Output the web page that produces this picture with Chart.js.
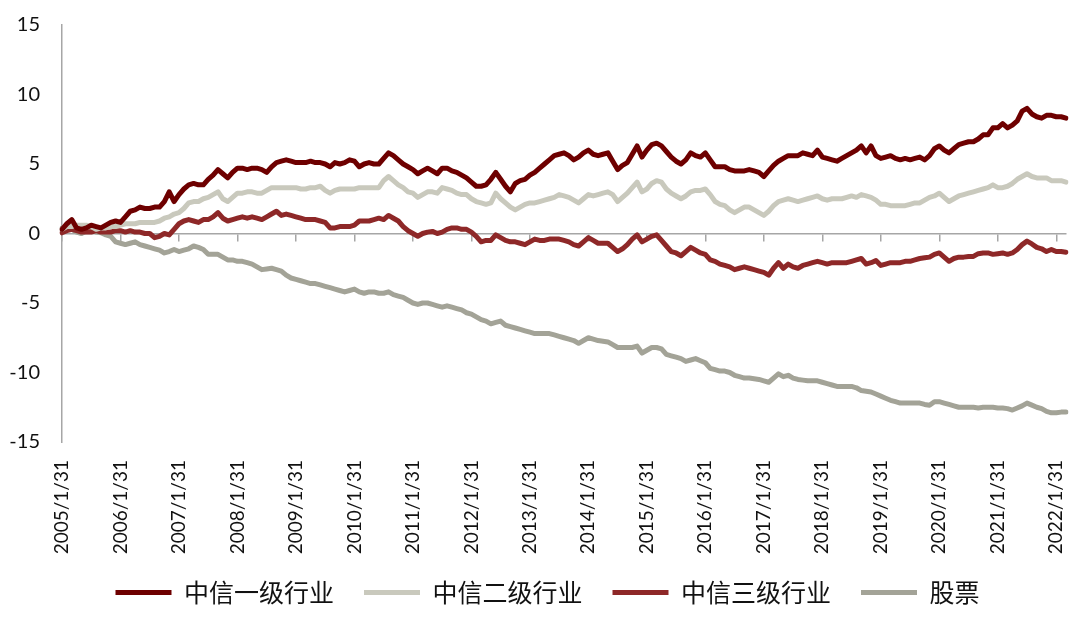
<!DOCTYPE html>
<html>
<head>
<meta charset="utf-8">
<script src="https://cdn.jsdelivr.net/npm/chart.js@4/dist/chart.umd.min.js"></script>
<style>
  html, body { margin: 0; padding: 0; background: #fff; }
  #wrap { width: 1080px; height: 617px; }
</style>
</head>
<body>
<div id="wrap"><canvas id="chart"></canvas></div>
<script>
// month-end dates, 2005/1/31 .. 2022/3/31
const months = [];
for (let y = 2005; y <= 2022; y++) {
  for (let m = 1; m <= 12; m++) {
    if (months.length >= 207) break;
    months.push(y + '/' + m + '/' + new Date(y, m, 0).getDate());
  }
}

const seriesNames = ['中信一级行业', '中信二级行业', '中信三级行业', '股票'];
const seriesColors = ['#6E0000', '#C9C9BD', '#8E2828', '#A3A397'];

const level1 = [
  0.3,0.7,1.0,0.4,0.3,0.4,0.6,0.5,0.4,0.6,0.8,0.9,
  0.8,1.2,1.6,1.7,1.9,1.8,1.8,1.9,1.9,2.3,3.0,2.3,
  2.8,3.2,3.5,3.6,3.5,3.5,3.9,4.2,4.6,4.3,4.0,4.4,
  4.7,4.7,4.6,4.7,4.7,4.6,4.4,4.8,5.1,5.2,5.3,5.2,
  5.1,5.1,5.1,5.2,5.1,5.1,5.0,4.8,5.1,5.0,5.1,5.3,
  5.2,4.8,5.0,5.1,5.0,5.0,5.4,5.8,5.6,5.3,5.0,4.8,
  4.6,4.3,4.5,4.7,4.5,4.3,4.7,4.7,4.5,4.4,4.2,4.0,
  3.7,3.4,3.4,3.5,3.9,4.4,3.9,3.4,3.0,3.6,3.8,3.9,
  4.2,4.4,4.7,5.0,5.3,5.6,5.7,5.8,5.6,5.3,5.5,5.8,
  6.0,5.7,5.6,5.7,5.8,5.2,4.6,4.9,5.1,5.7,6.3,5.5,
  6.0,6.4,6.5,6.3,5.9,5.5,5.2,5.0,5.3,5.8,5.6,5.5,
  5.8,5.3,4.8,4.8,4.8,4.6,4.5,4.5,4.5,4.6,4.5,4.4,
  4.1,4.5,4.9,5.2,5.4,5.6,5.6,5.6,5.8,5.7,5.6,6.0,
  5.5,5.4,5.3,5.2,5.4,5.6,5.8,6.0,6.3,5.8,6.3,5.6,
  5.4,5.5,5.6,5.4,5.3,5.4,5.3,5.4,5.5,5.3,5.6,6.1,
  6.3,6.0,5.8,6.1,6.4,6.5,6.6,6.6,6.8,7.1,7.1,7.6,
  7.6,7.9,7.6,7.8,8.1,8.8,9.0,8.6,8.4,8.3,8.5,8.5,
  8.4,8.4,8.3
];

const level2 = [
  0.3,0.5,0.5,0.6,0.6,0.6,0.5,0.3,0.4,0.4,0.5,0.5,
  0.6,0.7,0.7,0.7,0.8,0.8,0.8,0.8,0.9,1.1,1.2,1.4,
  1.5,1.8,2.2,2.3,2.3,2.5,2.6,2.8,3.0,2.5,2.3,2.6,
  2.9,2.9,3.0,3.0,2.9,2.9,3.1,3.3,3.3,3.3,3.3,3.3,
  3.3,3.2,3.2,3.3,3.3,3.4,3.1,2.9,3.1,3.2,3.2,3.2,
  3.2,3.3,3.3,3.3,3.3,3.3,3.8,4.1,3.8,3.5,3.3,3.0,
  2.9,2.6,2.8,3.0,3.0,2.9,3.3,3.2,3.1,2.9,2.8,2.8,
  2.5,2.3,2.2,2.1,2.2,2.9,2.5,2.2,1.9,1.7,1.9,2.1,
  2.2,2.2,2.3,2.4,2.5,2.6,2.8,2.7,2.6,2.4,2.2,2.5,
  2.8,2.7,2.8,2.9,3.0,2.8,2.3,2.6,2.9,3.3,3.7,3.0,
  3.2,3.6,3.8,3.7,3.2,2.9,2.7,2.5,2.7,3.0,3.1,3.1,
  3.2,2.8,2.3,2.1,2.0,1.7,1.5,1.7,1.9,1.9,1.7,1.5,
  1.3,1.6,2.0,2.3,2.4,2.5,2.4,2.3,2.4,2.5,2.6,2.7,
  2.5,2.4,2.5,2.5,2.5,2.6,2.7,2.6,2.8,2.7,2.6,2.4,
  2.1,2.1,2.0,2.0,2.0,2.0,2.1,2.2,2.2,2.4,2.6,2.7,
  2.9,2.6,2.3,2.5,2.7,2.8,2.9,3.0,3.1,3.2,3.3,3.5,
  3.3,3.3,3.4,3.6,3.9,4.1,4.3,4.1,4.0,4.0,4.0,3.8,
  3.8,3.8,3.7
];

const level3 = [
  0.05,0.2,0.3,0.2,0.1,0.1,0.1,0.2,0.1,0.1,0.1,0.2,
  0.2,0.1,0.2,0.1,0.1,0.0,0.0,-0.3,-0.2,0.0,-0.1,0.3,
  0.7,0.9,1.0,0.9,0.8,1.0,1.0,1.2,1.5,1.1,0.9,1.0,
  1.1,1.2,1.1,1.2,1.1,1.0,1.2,1.4,1.6,1.3,1.4,1.3,
  1.2,1.1,1.0,1.0,1.0,0.9,0.8,0.4,0.4,0.5,0.5,0.5,
  0.6,0.9,0.9,0.9,1.0,1.1,1.0,1.3,1.1,0.9,0.5,0.2,
  0.0,-0.2,0.0,0.1,0.15,0.0,0.1,0.3,0.4,0.4,0.3,0.3,
  0.1,-0.2,-0.6,-0.5,-0.5,-0.1,-0.3,-0.5,-0.6,-0.6,-0.7,-0.8,
  -0.6,-0.4,-0.5,-0.5,-0.4,-0.4,-0.4,-0.5,-0.6,-0.8,-0.9,-0.6,
  -0.3,-0.5,-0.7,-0.7,-0.7,-1.0,-1.3,-1.1,-0.8,-0.4,-0.1,-0.6,
  -0.4,-0.2,-0.1,-0.5,-0.9,-1.3,-1.4,-1.6,-1.3,-1.0,-1.2,-1.4,
  -1.5,-1.9,-2.0,-2.2,-2.3,-2.4,-2.6,-2.5,-2.4,-2.5,-2.6,-2.7,
  -2.8,-3.0,-2.5,-2.1,-2.5,-2.2,-2.4,-2.5,-2.3,-2.2,-2.1,-2.0,
  -2.1,-2.2,-2.1,-2.1,-2.1,-2.1,-2.0,-1.9,-1.8,-2.2,-2.1,-1.95,
  -2.3,-2.2,-2.1,-2.1,-2.1,-2.0,-2.0,-1.9,-1.8,-1.75,-1.7,-1.5,
  -1.4,-1.7,-2.0,-1.8,-1.7,-1.7,-1.65,-1.65,-1.45,-1.4,-1.4,-1.5,
  -1.45,-1.4,-1.5,-1.4,-1.15,-0.8,-0.55,-0.75,-1.0,-1.1,-1.3,-1.15,
  -1.3,-1.3,-1.35
];

const stocks = [
  0.4,0.3,0.3,0.1,0.0,0.2,0.3,0.1,0.05,-0.1,-0.2,-0.6,
  -0.7,-0.8,-0.7,-0.6,-0.8,-0.9,-1.0,-1.1,-1.2,-1.4,-1.3,-1.15,
  -1.3,-1.2,-1.1,-0.9,-1.0,-1.15,-1.5,-1.5,-1.5,-1.7,-1.9,-1.9,
  -2.0,-2.0,-2.1,-2.2,-2.4,-2.6,-2.55,-2.5,-2.6,-2.7,-3.0,-3.2,
  -3.3,-3.4,-3.5,-3.6,-3.6,-3.7,-3.8,-3.9,-4.0,-4.1,-4.2,-4.1,
  -4.0,-4.2,-4.3,-4.2,-4.2,-4.3,-4.3,-4.2,-4.4,-4.5,-4.6,-4.8,
  -5.0,-5.1,-5.0,-5.0,-5.1,-5.2,-5.3,-5.2,-5.3,-5.4,-5.5,-5.7,
  -5.8,-6.0,-6.2,-6.3,-6.5,-6.4,-6.3,-6.6,-6.7,-6.8,-6.9,-7.0,
  -7.1,-7.2,-7.2,-7.2,-7.2,-7.3,-7.4,-7.5,-7.6,-7.7,-7.9,-7.7,
  -7.5,-7.6,-7.7,-7.75,-7.8,-8.0,-8.2,-8.2,-8.2,-8.2,-8.1,-8.6,
  -8.4,-8.2,-8.2,-8.3,-8.7,-8.8,-8.9,-9.0,-9.2,-9.1,-9.0,-9.15,
  -9.3,-9.7,-9.8,-9.9,-9.9,-10.0,-10.2,-10.3,-10.4,-10.4,-10.45,-10.5,
  -10.6,-10.7,-10.4,-10.1,-10.3,-10.2,-10.4,-10.5,-10.55,-10.6,-10.6,-10.6,
  -10.7,-10.8,-10.9,-11.0,-11.0,-11.0,-11.0,-11.1,-11.3,-11.35,-11.4,-11.55,
  -11.7,-11.85,-12.0,-12.1,-12.2,-12.2,-12.2,-12.2,-12.2,-12.3,-12.35,-12.1,
  -12.1,-12.2,-12.3,-12.4,-12.5,-12.5,-12.5,-12.5,-12.55,-12.5,-12.5,-12.5,
  -12.55,-12.55,-12.6,-12.7,-12.55,-12.4,-12.2,-12.35,-12.5,-12.6,-12.8,-12.9,
  -12.9,-12.85,-12.85
];

const yTicks = [-15, -10, -5, 0, 5, 10, 15];
const allSeries = [level1, level2, level3, stocks];

const axisGrey = '#A6A6A6';

// let the tick labels spill out of their axis boxes (chart.js clips them otherwise)
const unclipLabels = {
  id: 'unclipLabels',
  afterLayout(chart) {
    chart.scales.y.left = 0;
    chart.scales.x.bottom = chart.height;
  }
};

new Chart(document.getElementById('chart'), {
  type: 'line',
  data: {
    labels: months,
    datasets: allSeries.map((vals, i) => ({
      label: seriesNames[i],
      data: vals,
      borderColor: seriesColors[i],
      backgroundColor: seriesColors[i],
      borderWidth: 5,
      borderCapStyle: 'round',
      borderJoinStyle: 'round',
      pointRadius: 0,
      pointStyle: 'line',
      tension: 0
    }))
  },
  plugins: [unclipLabels],
  options: {
    responsive: true,
    maintainAspectRatio: false,
    animation: false,
    layout: { padding: { left: 29, right: 14, top: 25, bottom: 2 } },
    plugins: {
      tooltip: { enabled: false },
      legend: {
        position: 'bottom',
        labels: {
          usePointStyle: true,
          pointStyle: 'line',
          pointStyleWidth: 56,
          padding: 30,
          color: '#111',
          font: { family: '"Noto Sans CJK SC"', size: 25 }
        }
      }
    },
    scales: {
      x: {
        type: 'category',
        position: 'bottom',
        grid: { display: false, drawTicks: false },
        border: { display: false },
        afterFit: s => { s.height = 108; s.paddingLeft = 0; s.paddingRight = 0; },
        ticks: {
          autoSkip: false,
          minRotation: 90,
          maxRotation: 90,
          padding: 18,
          color: '#111',
          font: { family: 'Lato', size: 19 },
          callback: function (v, i) { return i % 12 === 0 ? this.getLabelForValue(v) : ''; }
        }
      },
      x0: {
        type: 'category',
        position: { y: 0 },
        grid: {
          drawOnChartArea: false,
          drawTicks: true,
          tickLength: 7,
          lineWidth: 1.5,
          color: c => (c.index % 12 === 0 ? axisGrey : 'rgba(0,0,0,0)')
        },
        border: { display: true, color: axisGrey, width: 1.5 },
        ticks: { display: false, autoSkip: false }
      },
      y: {
        min: -15,
        max: 15,
        afterFit: s => { s.width = 33; s.paddingTop = 0; s.paddingBottom = 0; },
        afterBuildTicks: s => { s.ticks = yTicks.map(v => ({ value: v })); },
        grid: { display: false, drawTicks: false },
        border: { display: true, color: axisGrey, width: 1.5 },
        ticks: {
          padding: 22,
          color: '#111',
          font: { family: 'Lato', size: 20 }
        }
      }
    }
  }
});
</script>
</body>
</html>
